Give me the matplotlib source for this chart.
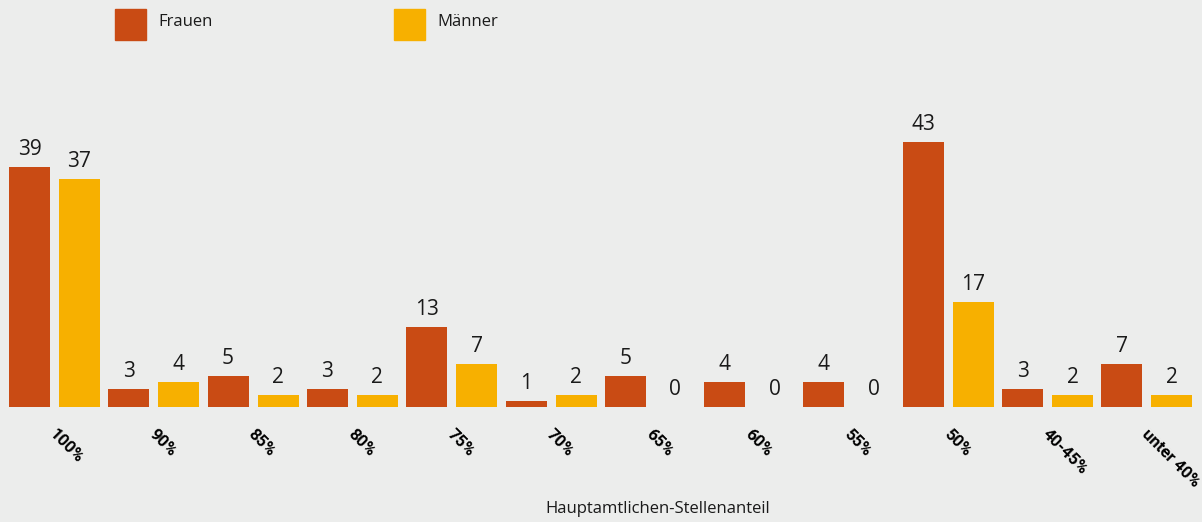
import numpy as np
import matplotlib
matplotlib.use("Agg")
import matplotlib.pyplot as plt
from matplotlib.patches import Rectangle
from matplotlib.transforms import ScaledTranslation

categories = ["100%", "90%", "85%", "80%", "75%", "70%", "65%", "60%", "55%",
              "50%", "40-45%", "unter 40%"]
frauen = [39, 3, 5, 3, 13, 1, 5, 4, 4, 43, 3, 7]
maenner = [37, 4, 2, 2, 7, 2, 0, 0, 0, 17, 2, 2]

c_frauen = "#C94B14"
c_maenner = "#F7B000"
bg = "#ECEDEC"

plt.rcParams["font.family"] = ["Open Sans", "DejaVu Sans"]

W, H = 1202, 522
fig = plt.figure(figsize=(W / 100, H / 100), dpi=100, facecolor=bg)

# axes spans the full width; baseline at 407 px from top
ax = fig.add_axes([0, 115 / H, 1, 1 - 115 / H])
ax.set_facecolor(bg)

pitch = 99.3
x0 = 54.5
ax.set_xlim(-x0 / pitch, (W - x0) / pitch)
ax.set_ylim(0, (H - 115) / 6.16)

x = np.arange(len(categories))
off = 25 / pitch
bw = 41 / pitch
b1 = ax.bar(x - off, frauen, bw, color=c_frauen)
b2 = ax.bar(x + off, maenner, bw, color=c_maenner)

for bars, vals in ((b1, frauen), (b2, maenner)):
    for rect, v in zip(bars, vals):
        ax.annotate(str(v), (rect.get_x() + rect.get_width() / 2, v),
                    xytext=(0, 5), textcoords="offset points",
                    ha="center", va="bottom", fontsize=15, color="#1a1a1a")

for spine in ax.spines.values():
    spine.set_visible(False)
ax.set_yticks([])
ax.set_xticks(x)
ax.set_xticklabels(categories, rotation=-45, ha="left", va="top",
                   rotation_mode="anchor", fontsize=12, fontweight="bold",
                   family=["Roboto", "DejaVu Sans"])
ax.tick_params(axis="x", length=0, pad=14)
shift = ScaledTranslation(3 / 100, 0, fig.dpi_scale_trans)
for lbl in ax.get_xticklabels():
    lbl.set_transform(lbl.get_transform() + shift)

fig.text(658 / W, 1 - 509 / H, "Hauptamtlichen-Stellenanteil", ha="center",
         va="center", fontsize=12, color="#1a1a1a")

# legend
for (lx, name, col) in ((115, "Frauen", c_frauen), (394, "Männer", c_maenner)):
    fig.add_artist(Rectangle((lx / W, 1 - 40 / H), 31 / W, 31 / H,
                             transform=fig.transFigure, color=col))
    fig.text((lx + 43) / W, 1 - 22 / H, name, ha="left", va="center",
             fontsize=12, color="#1a1a1a")

fig.savefig("out.png", dpi=100, facecolor=bg)
